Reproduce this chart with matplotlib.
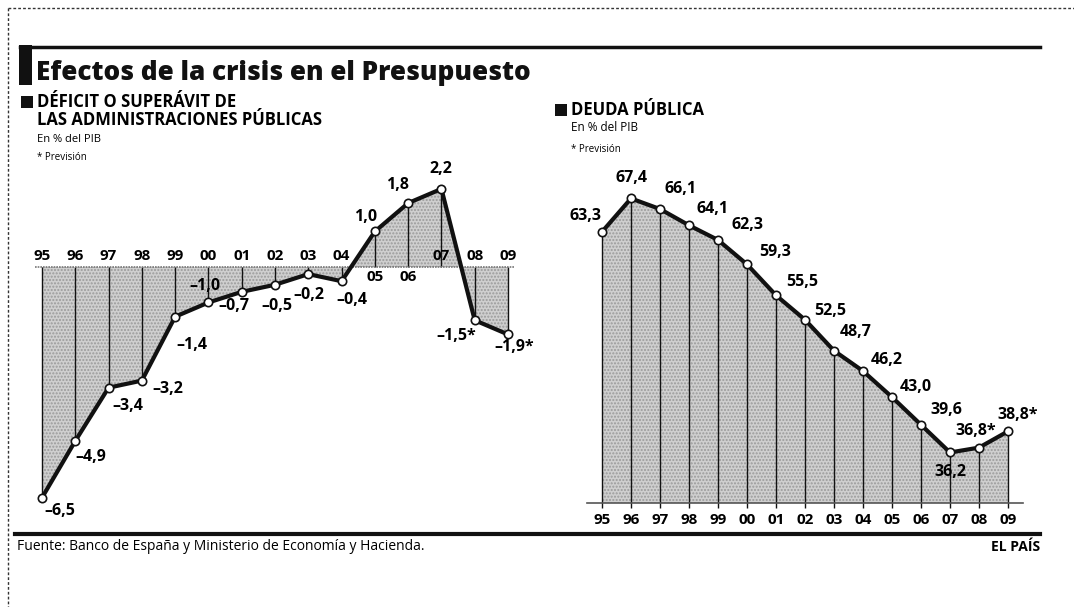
import numpy as np
import matplotlib.pyplot as plt
from matplotlib.lines import Line2D
from matplotlib.patches import Rectangle

plt.rcParams['font.family'] = ['Open Sans', 'DejaVu Sans']

W, H = 1074, 607

# Datos
anios = ['95', '96', '97', '98', '99', '00', '01', '02', '03', '04', '05', '06', '07', '08', '09']
deficit = [-6.5, -4.9, -3.4, -3.2, -1.4, -1.0, -0.7, -0.5, -0.2, -0.4, 1.0, 1.8, 2.2, -1.5, -1.9]
deficit_txt = ['–6,5', '–4,9', '–3,4', '–3,2', '–1,4', '–1,0', '–0,7', '–0,5', '–0,2', '–0,4',
               '1,0', '1,8', '2,2', '–1,5*', '–1,9*']
deuda = [63.3, 67.4, 66.1, 64.1, 62.3, 59.3, 55.5, 52.5, 48.7, 46.2, 43.0, 39.6, 36.2, 36.8, 38.8]
deuda_txt = ['63,3', '67,4', '66,1', '64,1', '62,3', '59,3', '55,5', '52,5', '48,7', '46,2',
             '43,0', '39,6', '36,2', '36,8*', '38,8*']

# desplazamientos de etiquetas (pixeles)
off_def = [(18, -13), (15, -16), (19, -18), (26, -8), (17, -28), (-3, 16), (-8, -14), (2, -21),
           (1, -21), (10, -19), (-9, 14), (-11, 18), (-1, 20), (-18, -16), (6, -13)]
off_deu = [(-16, 16), (0, 20), (21, 20), (24, 16), (30, 15), (28, 12), (26, 13), (25, 9),
           (22, 19), (24, 11), (24, 10), (25, 15), (0, -20), (-3, 17), (10, 16)]


def px_axes(x0, y0, x1, y1):
    # caja en pixeles (y hacia abajo) -> fraccion de figura
    return [x0 / W, 1 - y1 / H, (x1 - x0) / W, (y1 - y0) / H]


def linea(x0, y0, x1, y1, **kw):
    fig.add_artist(Line2D([x0 / W, x1 / W], [1 - y0 / H, 1 - y1 / H], **kw))


def texto(x, y, s, **kw):
    fig.text(x / W, 1 - y / H, s, **kw)


def cuadro(x0, y0, x1, y1):
    fig.add_artist(Rectangle((x0 / W, 1 - y1 / H), (x1 - x0) / W, (y1 - y0) / H,
                             facecolor='#111111', edgecolor='none'))


fig = plt.figure(figsize=(W / 100, H / 100), dpi=100)
fig.patch.set_facecolor('white')

# Marco punteado y reglas
linea(8, 8, W, 8, color='#333333', lw=1, linestyle=(0, (2, 1.5)))
linea(8, 8, 8, H, color='#333333', lw=1, linestyle=(0, (2, 1.5)))
linea(20, 47, 1040, 47, color='#111111', lw=2.5)
linea(15, 534, 1040, 534, color='#111111', lw=3)

# Titulo
cuadro(19, 45, 32, 85)
texto(36, 73, 'Efectos de la crisis en el Presupuesto', fontsize=18.8, fontweight='heavy',
      va='center', ha='left', color='#111111')

# Subtitulos izquierda
cuadro(21, 96, 33, 108)
texto(37, 102, 'DÉFICIT O SUPERÁVIT DE', fontsize=12, fontweight='bold', va='center')
texto(37, 120, 'LAS ADMINISTRACIONES PÚBLICAS', fontsize=12, fontweight='bold', va='center')
texto(37, 139, 'En % del PIB', fontsize=8, va='center')
texto(37, 157, '* Previsión', fontsize=7, va='center')

# Subtitulos derecha
cuadro(555, 104, 567, 116)
texto(571, 110, 'DEUDA PÚBLICA', fontsize=12, fontweight='bold', va='center')
texto(571, 128, 'En % del PIB', fontsize=8.5, va='center')
texto(571, 149, '* Previsión', fontsize=7, va='center')

# Pie
texto(17, 546, 'Fuente: Banco de España y Ministerio de Economía y Hacienda.', fontsize=10,
      va='center')
texto(1040, 547, 'EL PAÍS', fontsize=10, fontweight='bold', va='center', ha='right')

x = np.arange(len(anios))
relleno = dict(facecolor='#cfcfcf', edgecolor='#9a9a9a', hatch='.....', linewidth=0)

# Grafico izquierdo: deficit
ax1 = fig.add_axes(px_axes(25.35, 160.5, 524.65, 522.6))
ax1.set_xlim(-0.5, 14.5)
ax1.set_ylim(-7.2, 3.0)
ax1.axis('off')
ax1.fill_between(x, deficit, 0, **relleno)
ax1.vlines(x, 0, deficit, color='#111111', lw=1)
ax1.axhline(0, xmin=0.02, xmax=0.98, color='#777777', lw=1.2, linestyle=(0, (1, 0.6)))
ax1.plot(x, deficit, color='#111111', lw=3, marker='o', markersize=6,
         markerfacecolor='white', markeredgecolor='#111111', markeredgewidth=1.2, zorder=5)
for i, a in enumerate(anios):
    dy = -10 if deficit[i] > 0 and i != 12 else 11
    ax1.annotate(a, (x[i], 0), xytext=(0, dy), textcoords='offset pixels', ha='center',
                 va='center', fontsize=11, fontweight='bold')
    ax1.annotate(deficit_txt[i], (x[i], deficit[i]), xytext=off_def[i],
                 textcoords='offset pixels', ha='center', va='center', fontsize=11.5,
                 fontweight='bold', zorder=6)

# Grafico derecho: deuda
ax2 = fig.add_axes(px_axes(573, 161, 1037, 527.4))
ax2.set_xlim(-1, 15)
ax2.set_ylim(27, 72)
ax2.axis('off')
ax2.fill_between(x, deuda, 30, **relleno)
ax2.vlines(x, 29.4, deuda, color='#111111', lw=1)
ax2.axhline(30, xmin=0.03, xmax=0.97, color='#555555', lw=1.2)
ax2.plot(x, deuda, color='#111111', lw=3, marker='o', markersize=6,
         markerfacecolor='white', markeredgecolor='#111111', markeredgewidth=1.2, zorder=5)
for i, a in enumerate(anios):
    ax2.annotate(a, (x[i], 30), xytext=(0, -17), textcoords='offset pixels', ha='center',
                 va='center', fontsize=11, fontweight='bold')
    ax2.annotate(deuda_txt[i], (x[i], deuda[i]), xytext=off_deu[i],
                 textcoords='offset pixels', ha='center', va='center', fontsize=11.5,
                 fontweight='bold', zorder=6)

fig.savefig('out.png', dpi=100)
